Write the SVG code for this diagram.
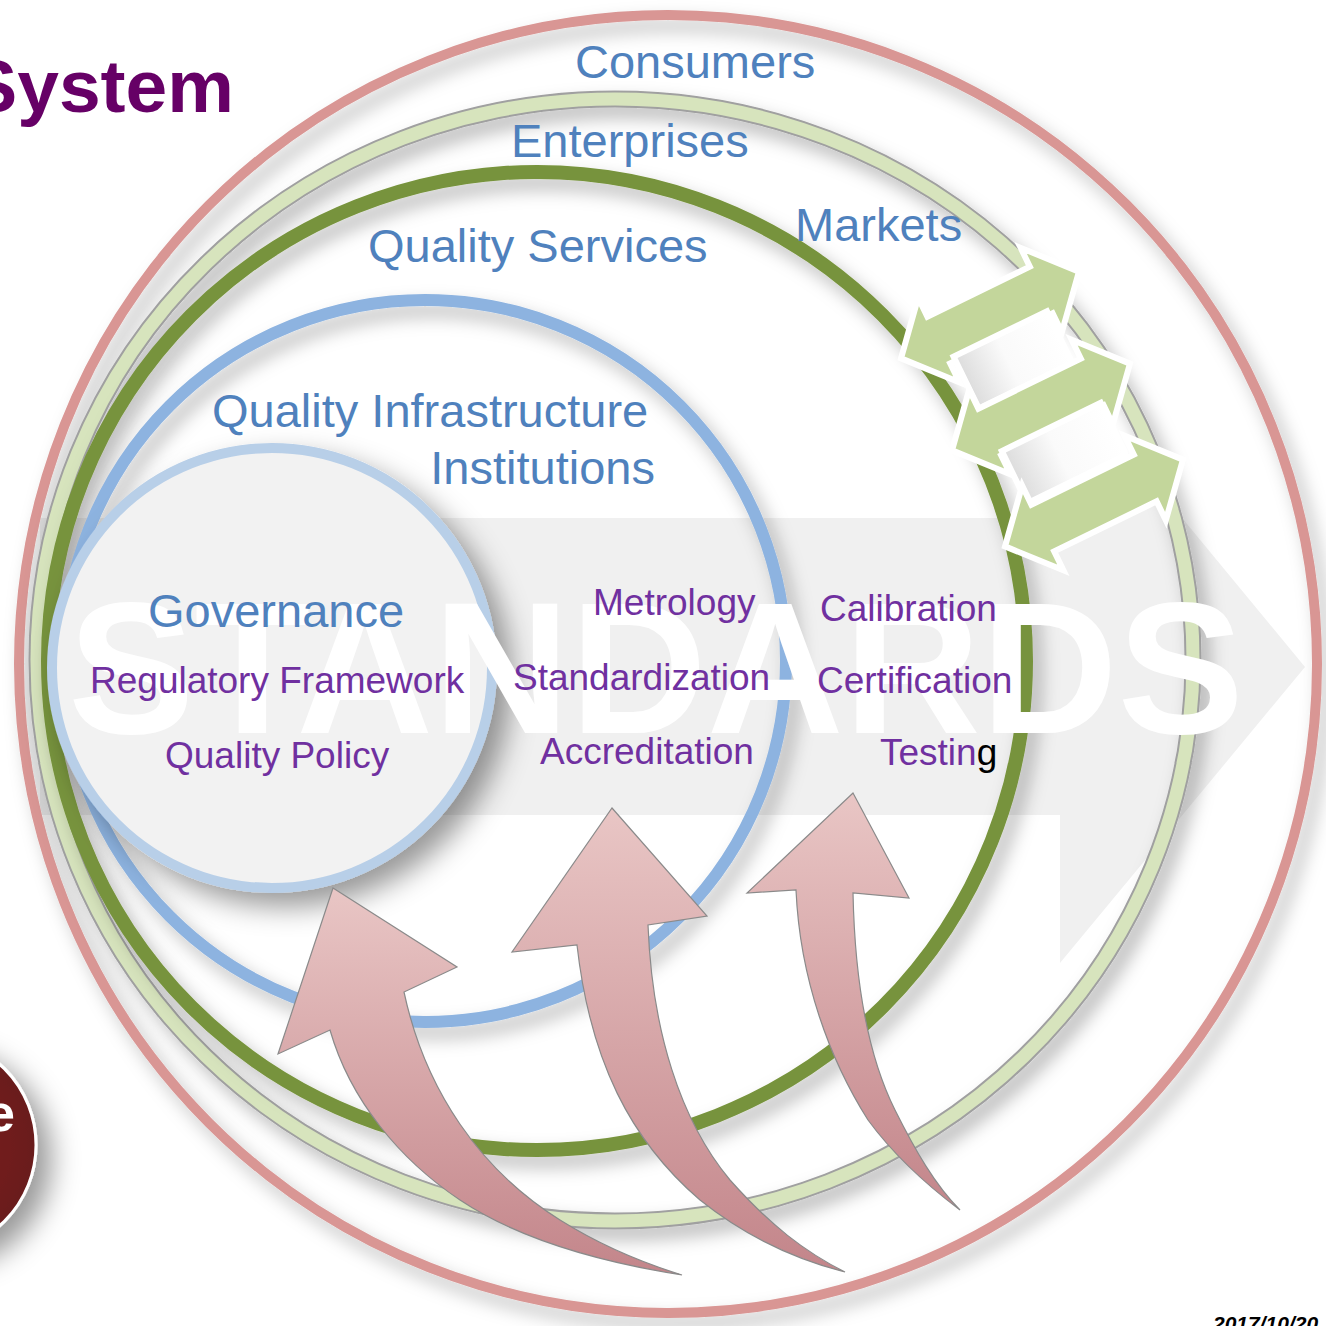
<svg xmlns="http://www.w3.org/2000/svg" width="1326" height="1326" viewBox="0 0 1326 1326">
<defs>
<style>
.blue{font-family:"Liberation Sans",Arial,sans-serif;fill:#4f81bd;font-size:47px}
.pur{font-family:"Liberation Sans",Arial,sans-serif;fill:#7030a0;font-size:37px}
.ring{fill:none}
.garrow{fill:#c3d69b;stroke:#fff;stroke-width:6;stroke-linejoin:miter}
.parrow{fill:url(#pg);stroke:#8a8a8a;stroke-width:1.2}
.wrect{fill:url(#wg);stroke:#fff;stroke-width:6}
</style>
<filter id="sh" x="-20%" y="-20%" width="140%" height="140%">
<feGaussianBlur in="SourceAlpha" stdDeviation="9"/>
<feOffset dx="8" dy="10" result="b"/>
<feFlood flood-color="#000" flood-opacity="0.28"/>
<feComposite in2="b" operator="in"/>
<feMerge><feMergeNode/><feMergeNode in="SourceGraphic"/></feMerge>
</filter>
<filter id="sh2" x="-30%" y="-30%" width="160%" height="160%">
<feGaussianBlur in="SourceAlpha" stdDeviation="14"/>
<feOffset dx="14" dy="14" result="b"/>
<feFlood flood-color="#000" flood-opacity="0.4"/>
<feComposite in2="b" operator="in"/>
<feMerge><feMergeNode/><feMergeNode in="SourceGraphic"/></feMerge>
</filter>
<linearGradient id="pg" x1="0" y1="0" x2="0" y2="1">
<stop offset="0" stop-color="#e9c6c5"/>
<stop offset="1" stop-color="#c3858a"/>
</linearGradient>
<linearGradient id="wg" x1="0" y1="0" x2="1" y2="0">
<stop offset="0" stop-color="#dcdcdc"/>
<stop offset="0.45" stop-color="#fafafa"/>
<stop offset="1" stop-color="#ffffff"/>
</linearGradient>
<radialGradient id="rg" cx="0.5" cy="0.5" r="0.5">
<stop offset="0" stop-color="#7f2424"/>
<stop offset="1" stop-color="#6a1c1c"/>
</radialGradient>
<path id="dbl" d="M-99,0 L-57,-47 L-57,-26 L57,-26 L57,-47 L99,0 L57,47 L57,26 L-57,26 L-57,47 Z"/>
</defs>
<rect width="1326" height="1326" fill="#fff"/>

<g id="title"><text x="234" y="112" text-anchor="end" font-family="Liberation Sans,Arial,sans-serif" font-weight="bold" font-size="75" fill="#660066">System</text></g>

<g id="side-circle" filter="url(#sh2)">
<circle cx="-72" cy="1145" r="108" fill="url(#rg)" stroke="#fff" stroke-width="3"/>
<text x="15" y="1131" text-anchor="end" font-family="Liberation Sans,Arial,sans-serif" font-weight="bold" font-size="52" fill="#fff">e</text>
</g>

<g id="standards-band">
<path d="M40,518 L1060,518 L1060,370 L1305,667 L1060,963 L1060,815 L40,815 Z" fill="#f0f0f0"/>
</g>

<g id="rings">
<circle id="ring-consumers" class="ring" cx="668" cy="664" r="649" stroke="#d99694" stroke-width="10" filter="url(#sh)"/>
<g id="ring-enterprises" filter="url(#sh)">
<ellipse class="ring" cx="615" cy="660" rx="578" ry="561" stroke="#a0a0a0" stroke-width="17"/>
<ellipse class="ring" cx="615" cy="660" rx="578" ry="561" stroke="#d7e4bd" stroke-width="13"/>
</g>
<circle id="ring-services" class="ring" cx="537" cy="661" r="489" stroke="#77933c" stroke-width="14" filter="url(#sh)"/>
<circle id="ring-institutions" class="ring" cx="425" cy="661" r="361" stroke="#8db3e0" stroke-width="12" filter="url(#sh)"/>
<circle id="core" cx="272" cy="668" r="220" fill="#f2f2f2" stroke="#b8cfe8" stroke-width="10" filter="url(#sh2)"/>
</g>

<g id="standards-text">
<text x="68" y="733" font-family="Liberation Sans,Arial,sans-serif" font-weight="bold" font-size="188" fill="#fff" textLength="1176" lengthAdjust="spacingAndGlyphs">STANDARDS</text>
</g>

<g id="labels">
<text class="blue" x="575" y="78">Consumers</text>
<text class="blue" x="511" y="157">Enterprises</text>
<text class="blue" x="795" y="241">Markets</text>
<text class="blue" x="368" y="262">Quality Services</text>
<text class="blue" x="212" y="427">Quality Infrastructure</text>
<text class="blue" x="655" y="484" text-anchor="end">Institutions</text>
<text class="blue" x="148" y="627">Governance</text>
<text class="pur" x="90" y="693">Regulatory Framework</text>
<text class="pur" x="165" y="768">Quality Policy</text>
<text class="pur" x="593" y="615">Metrology</text>
<text class="pur" x="513" y="690">Standardization</text>
<text class="pur" x="540" y="764">Accreditation</text>
<text class="pur" x="820" y="621">Calibration</text>
<text class="pur" x="817" y="693">Certification</text>
<text class="pur" x="880" y="765">Testin<tspan fill="#000">g</tspan></text>
</g>

<g id="exchange-arrows">
<use href="#dbl" class="garrow" transform="translate(990,315) rotate(-26)"/>
<rect class="wrect" x="-52" y="-29" width="104" height="58" transform="translate(1013,360) rotate(-26)"/>
<use href="#dbl" class="garrow" transform="translate(1041,407) rotate(-26)"/>
<rect class="wrect" x="-55" y="-29" width="110" height="58" transform="translate(1064,453) rotate(-26)"/>
<use href="#dbl" class="garrow" transform="translate(1094,503) rotate(-26)"/>
</g>

<g id="growth-arrows">
<path class="parrow" d="M333,888 L457,967 L404,992 C425,1090 480,1170 560,1220 C600,1245 640,1262 682,1275 C600,1262 520,1240 460,1200 C400,1160 350,1100 330,1030 L278,1054 Z"/>
<path class="parrow" d="M612,808 L707,916 L648,925 C652,1030 680,1120 730,1180 C770,1225 805,1252 845,1272 C790,1258 740,1232 700,1200 C630,1140 590,1060 577,945 L512,952 Z"/>
<path class="parrow" d="M853,793 L909,898 L853,893 C855,990 870,1060 895,1110 C915,1150 935,1185 960,1210 C920,1180 890,1150 868,1120 C830,1060 800,980 796,890 L747,893 Z"/>
</g>

<g id="date"><text x="1213" y="1331" font-family="Liberation Sans,Arial,sans-serif" font-weight="bold" font-style="italic" font-size="21" fill="#000">2017/10/20</text></g>
</svg>
